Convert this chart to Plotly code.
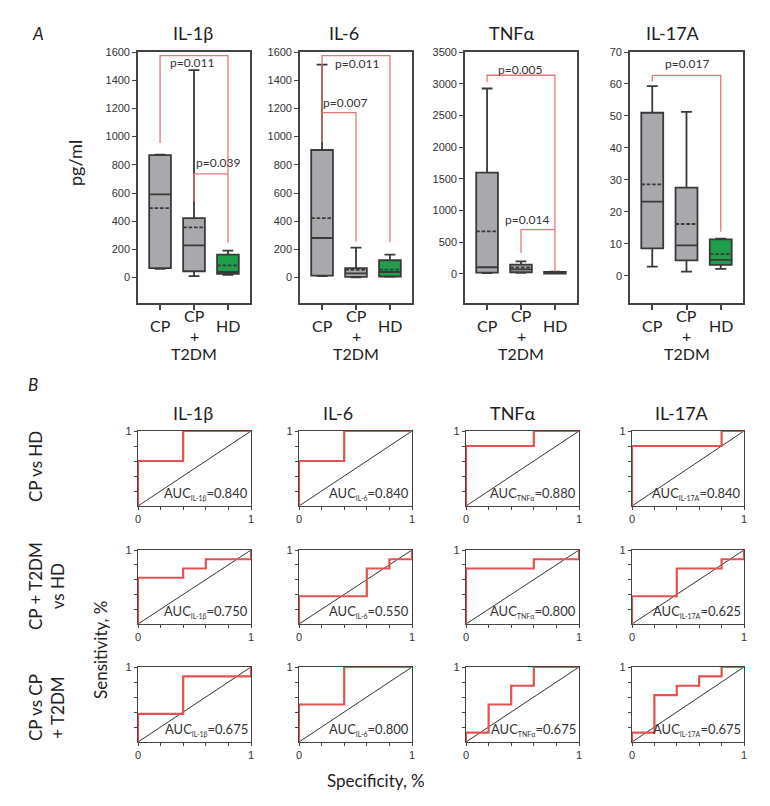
import plotly.graph_objects as go

W, H = 770, 806

# ---------------- data ----------------
cytokines = ["IL-1β", "IL-6", "TNFα", "IL-17A"]
auc_subs = ["IL-1β", "IL-6", "TNFα", "IL-17A"]
groups = ["CP", "CP + T2DM", "HD"]

# Box statistics (pg/ml), order: CP, CP+T2DM, HD
il1b_lower = [62, 10, 20]
il1b_q1 = [68, 45, 26]
il1b_median = [590, 229, 40]
il1b_q3 = [868, 422, 163]
il1b_upper = [872, 1472, 191]
il1b_mean = [493, 356, 87]

il6_lower = [10, 2, 5]
il6_q1 = [14, 5, 8]
il6_median = [281, 30, 40]
il6_q3 = [905, 68, 123]
il6_upper = [1510, 213, 163]
il6_mean = [422, 55, 57]

tnf_lower = [10, 15, 2]
tnf_q1 = [20, 25, 5]
tnf_median = [104, 70, 15]
tnf_q3 = [1597, 146, 30]
tnf_upper = [2924, 198, 35]
tnf_mean = [670, 100, 18]

il17_lower = [2.9, 1.3, 2.2]
il17_q1 = [8.6, 4.8, 3.4]
il17_median = [23.2, 9.5, 5.0]
il17_q3 = [51.0, 27.6, 11.4]
il17_upper = [59.3, 51.3, 11.6]
il17_mean = [28.6, 16.2, 6.8]

box_stats = [
    (il1b_lower, il1b_q1, il1b_median, il1b_q3, il1b_upper, il1b_mean),
    (il6_lower, il6_q1, il6_median, il6_q3, il6_upper, il6_mean),
    (tnf_lower, tnf_q1, tnf_median, tnf_q3, tnf_upper, tnf_mean),
    (il17_lower, il17_q1, il17_median, il17_q3, il17_upper, il17_mean),
]

y_ticks = [list(range(0, 1601, 200)), list(range(0, 1601, 200)),
           list(range(0, 3501, 500)), list(range(0, 71, 10))]
y_ranges = [[-180, 1600], [-180, 1600], [-460, 3500], [-8.5, 70]]

# p-values and brackets: (from group, to group, y start, y top, y end)
p_values = [["p=0.011", "p=0.039"], ["p=0.011", "p=0.007"],
            ["p=0.005", "p=0.014"], ["p=0.017"]]
brackets = [
    [(0, 2, 955, 1575, 248), (1, 2, 540, 736, 736)],
    [(0, 2, 960, 1575, 250), (0, 1, 1170, 1170, 257)],
    [(0, 2, 3028, 3133, 41), (1, 2, 330, 697, 697)],
    [(0, 2, 60.8, 62.7, 13.8)],
]
p_label_pos = [
    [(0.94, 1525), (1.7, 815)],
    [(1.02, 1515), (0.68, 1245)],
    [(0.97, 3222), (1.17, 865)],
    [(1.0, 66.4)],
]

# ROC curves: corner points (1-specificity, sensitivity)
row_labels = ["CP vs HD", "CP + T2DM<br>vs HD", "CP vs CP<br>+ T2DM"]
roc_fpr = [
    [[0, 0.4, 1], [0, 0.4, 1], [0, 0.6, 1], [0, 0.8, 1]],
    [[0, 0.4, 0.6, 1, 1], [0, 0.6, 0.8, 1, 1], [0, 0.6, 1, 1], [0, 0.4, 0.8, 1, 1]],
    [[0, 0.4, 1, 1], [0, 0.4, 1], [0, 0.2, 0.4, 0.6, 1], [0, 0.2, 0.4, 0.6, 0.8, 1]],
]
roc_tpr = [
    [[0, 0.6, 1], [0, 0.6, 1], [0, 0.8, 1], [0, 0.8, 1]],
    [[0, 0.625, 0.75, 0.875, 1], [0, 0.375, 0.75, 0.875, 1], [0, 0.75, 0.875, 1], [0, 0.375, 0.75, 0.875, 1]],
    [[0, 0.375, 0.875, 1], [0, 0.5, 1], [0, 0.125, 0.5, 0.75, 1], [0, 0.125, 0.625, 0.75, 0.875, 1]],
]
auc_values = [
    [0.840, 0.840, 0.880, 0.840],
    [0.750, 0.550, 0.800, 0.625],
    [0.675, 0.800, 0.675, 0.675],
]

# ---------------- layout geometry (pixels) ----------------
A_cols = [(138, 250), (300, 412), (465, 577), (630, 743)]
A_rows = (52, 303)
B_cols = [(138, 251), (299, 412), (466, 579), (632, 744)]
B_rows = [(431, 506), (550, 624), (667, 742)]
A_title_x = [193, 344, 512, 673]
B_title_x = [193, 338, 513, 682]

FONT = "Lato, Open Sans, sans-serif"
NUMFONT = "Liberation Sans Narrow, Liberation Sans, Arial, sans-serif"
AXC = "#444444"
RED_BR = "#e67777"
RED_ROC = "#e25252"


def px_x(p):
    return p / W


def px_y(p):
    return 1 - p / H


def paper_text(text, xp, yp, size, angle=0, color="#222", align="center"):
    return dict(text=text, x=px_x(xp), y=px_y(yp), xref="paper", yref="paper",
                xanchor="center", yanchor="middle", textangle=angle, showarrow=False,
                align=align, font=dict(family=FONT, size=size, color=color))


fig = go.Figure()
layout = dict(width=W, height=H, margin=dict(l=0, r=0, t=0, b=0, autoexpand=False),
              paper_bgcolor="white", plot_bgcolor="white", showlegend=False)
annotations = []

# ---------------- Part A: box plots ----------------
for i in range(4):
    k = i + 1
    xa, ya = f"x{k}", f"y{k}"
    for (g0, g1, ys, yt, ye) in brackets[i]:
        fig.add_trace(go.Scatter(x=[g0, g0, g1, g1], y=[ys, yt, yt, ye], mode="lines",
                                 line=dict(color=RED_BR, width=1.3), hoverinfo="skip",
                                 xaxis=xa, yaxis=ya))
    for (txt, (lx, ly)) in zip(p_values[i], p_label_pos[i]):
        annotations.append(dict(text=txt, x=lx, y=ly, xref=xa, yref=ya, showarrow=False,
                                xanchor="center", yanchor="middle",
                                font=dict(family=FONT, size=12, color="#333")))
    lo, q1, med, q3, up, mn = box_stats[i]
    for g in range(3):
        fill = "#1f9e4c" if g == 2 else "#a9a9ad"
        fig.add_trace(go.Box(x=[g], q1=[q1[g]], median=[med[g]], q3=[q3[g]],
                             lowerfence=[lo[g]], upperfence=[up[g]], mean=[mn[g]],
                             boxmean=True, boxpoints=False, width=0.64, whiskerwidth=0.5,
                             fillcolor=fill, line=dict(color="#3a3a3a", width=1.8),
                             name=groups[g], hoverinfo="skip", xaxis=xa, yaxis=ya))
    c0, c1 = A_cols[i]
    layout[f"xaxis{k}"] = dict(domain=[px_x(c0), px_x(c1)], anchor=ya, range=[-0.65, 2.65],
                               tickvals=[0, 1, 2], showticklabels=False, ticks="outside",
                               ticklen=5, tickwidth=1.5, tickcolor=AXC, showline=True,
                               mirror=True, linecolor=AXC, linewidth=1.6, showgrid=False,
                               zeroline=False)
    layout[f"yaxis{k}"] = dict(domain=[px_y(A_rows[1]), px_y(A_rows[0])], anchor=xa,
                               range=y_ranges[i], tickvals=y_ticks[i], ticks="outside",
                               ticklen=4, tickwidth=1.2, tickcolor=AXC, showline=True,
                               mirror=True, linecolor=AXC, linewidth=1.6, showgrid=False,
                               zeroline=False,
                               tickfont=dict(family=NUMFONT, size=11, color="#333"))
    annotations.append(paper_text(cytokines[i], A_title_x[i], 33, 18))
    for g, lines in enumerate([[("CP", 325)], [("CP", 315), ("+", 335), ("T2DM", 353)],
                               [("HD", 325)]]):
        for (t, yp) in lines:
            annotations.append(dict(text=t, x=g, y=px_y(yp), xref=xa, yref="paper",
                                    xanchor="center", yanchor="middle", showarrow=False,
                                    font=dict(family=FONT, size=16, color="#222")))

annotations.append(paper_text("<i>A</i>", 38, 33, 17))
annotations.append(paper_text("pg/ml", 75, 163, 18, angle=-90))

# ---------------- Part B: ROC curves ----------------
for r in range(3):
    for c in range(4):
        k = 5 + r * 4 + c
        xa, ya = f"x{k}", f"y{k}"
        fig.add_trace(go.Scatter(x=[0, 1], y=[0, 1], mode="lines",
                                 line=dict(color="#333", width=1), hoverinfo="skip",
                                 xaxis=xa, yaxis=ya))
        fig.add_trace(go.Scatter(x=roc_fpr[r][c], y=roc_tpr[r][c], mode="lines",
                                 line=dict(color=RED_ROC, width=2.2, shape="vh"),
                                 hoverinfo="skip", xaxis=xa, yaxis=ya))
        c0, c1 = B_cols[c]
        r0, r1 = B_rows[r]
        common = dict(range=[0, 1], ticks="outside", ticklen=3, tickwidth=1, tickcolor=AXC,
                      showline=True, mirror=True, linecolor=AXC, linewidth=1.4,
                      showgrid=False, zeroline=False, layer="below traces",
                      minor=dict(tickvals=[0.2, 0.4, 0.6, 0.8], ticks="outside", ticklen=3,
                                 tickwidth=1, tickcolor=AXC, showgrid=False),
                      tickfont=dict(family=NUMFONT, size=11, color="#333"))
        layout[f"xaxis{k}"] = dict(domain=[px_x(c0), px_x(c1)], anchor=ya,
                                   tickvals=[0, 1], ticktext=["0", "1"], **common)
        layout[f"yaxis{k}"] = dict(domain=[px_y(r1), px_y(r0)], anchor=xa,
                                   tickvals=[1], ticktext=["1"], **common)
        sub = f"<sub><span style='font-size:7px'>{auc_subs[c]}</span></sub>"
        annotations.append(dict(text=f"AUC{sub}={auc_values[r][c]:.3f}",
                                x=0.995, y=0.03, xref=f"{xa} domain", yref=f"{ya} domain",
                                xanchor="right", yanchor="bottom", showarrow=False,
                                font=dict(family=FONT, size=13, color="#333")))
    two = "<br>" in row_labels[r]
    annotations.append(paper_text(row_labels[r], 46 if two else 35, [467, 586, 708][r], 17,
                                  angle=-90))

for c in range(4):
    annotations.append(paper_text(cytokines[c], B_title_x[c], 413, 18))

annotations.append(paper_text("<i>B</i>", 33, 384, 17))
annotations.append(paper_text("Sensitivity, %", 100, 650, 17, angle=-90))
annotations.append(paper_text("Specificity, %", 376, 780, 17))

layout["annotations"] = annotations
fig.update_layout(**layout)
fig.write_html("out.html", config={"displayModeBar": False},
               post_script="document.body.style.margin='0px';")
